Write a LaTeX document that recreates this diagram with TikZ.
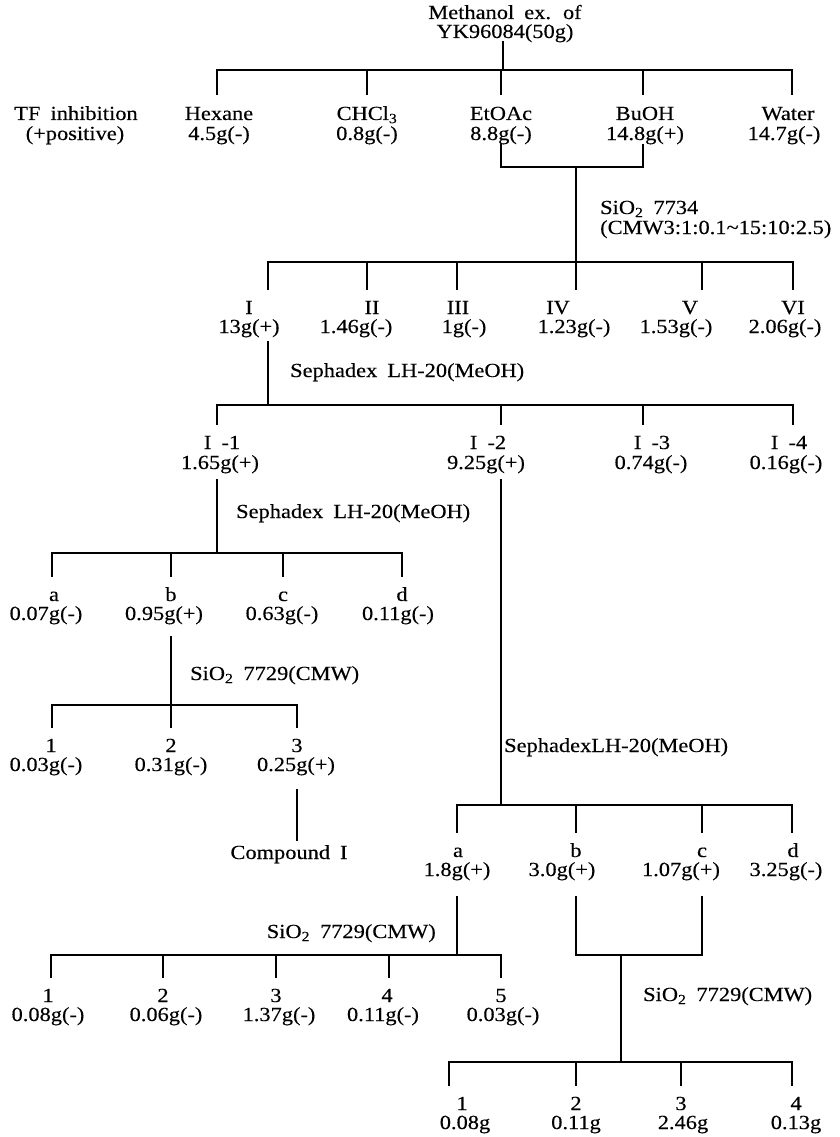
\documentclass[tikz,border=0pt]{standalone}
\usepackage{fontspec}
\setmainfont{Liberation Serif}[FakeStretch=1.12, WordSpace=1.8, FakeBold=0.3]
\newcommand\labfont{\fontsize{20}{19}\selectfont}
\begin{document}
\begin{tikzpicture}[x=1pt,y=-1pt,
  lbl/.style={font=\labfont,inner sep=0pt,anchor=base,text height=12pt,text depth=4pt},
  mth/.style={font=\labfont,inner sep=0pt,anchor=base west},
  ln/.style={line width=1.4pt,line cap=rect}]
\useasboundingbox[fill=white] (0,0) rectangle (839,1137);
\newcommand\lab[7]{\node[lbl] (#1) at (#2,#3) {#4};\node[lbl] (#1-m) at (#5,#6) {#7};}
\newcommand\drp[3]{\coordinate (#1-t) at (#2,#3);\draw[ln,shorten >=13pt] (#1-t) -- (#1-t |- #1.north);}
% title
\node[lbl] (tA) at (505,19) {Methanol ex. of};
\node[lbl] (tB) at (505,38) {YK96084(50g)};
% row 1
\lab{tf}{76}{120}{TF inhibition}{75}{140}{(+positive)}
\lab{hex}{219}{120}{Hexane}{219}{140}{4.5g(-)}
\lab{chl}{367}{120}{CHCl\textsubscript{3}}{367}{140}{0.8g(-)}
\lab{eto}{501}{120}{EtOAc}{501}{140}{8.8g(-)}
\lab{buo}{645}{120}{BuOH}{645}{140}{14.8g(+)}
\lab{wat}{788}{120}{Water}{784}{140}{14.7g(-)}
% row 2
\lab{f1}{249}{314}{I}{249}{333}{13g(+)}
\lab{f2}{372}{314}{II}{356}{333}{1.46g(-)}
\lab{f3}{458}{314}{III}{464}{333}{1g(-)}
\lab{f4}{558}{314}{IV}{574}{333}{1.23g(-)}
\lab{f5}{690}{314}{V}{676}{333}{1.53g(-)}
\lab{f6}{793}{314}{VI}{785}{333}{2.06g(-)}
% row 3
\lab{g1}{222}{449}{I -1}{220}{469}{1.65g(+)}
\lab{g2}{488}{449}{I -2}{486}{469}{9.25g(+)}
\lab{g3}{652}{449}{I -3}{651}{469}{0.74g(-)}
\lab{g4}{789}{449}{I -4}{786}{469}{0.16g(-)}
% row 4
\lab{h1}{54}{601}{a}{46}{620}{0.07g(-)}
\lab{h2}{171}{601}{b}{164}{620}{0.95g(+)}
\lab{h3}{283}{601}{c}{282}{620}{0.63g(-)}
\lab{h4}{402}{601}{d}{398}{620}{0.11g(-)}
% row 5
\lab{k1}{51}{752}{1}{46}{771}{0.03g(-)}
\lab{k2}{171}{752}{2}{171}{771}{0.31g(-)}
\lab{k3}{297}{752}{3}{296}{771}{0.25g(+)}
\node[lbl] (cmp) at (289,859) {Compound\enspace I};
% row 6
\lab{m1}{458}{857}{a}{457}{876}{1.8g(+)}
\lab{m2}{576}{857}{b}{562}{876}{3.0g(+)}
\lab{m3}{702}{857}{c}{681}{876}{1.07g(+)}
\lab{m4}{793}{857}{d}{786}{876}{3.25g(-)}
% row 7
\lab{n1}{48}{1002}{1}{48}{1021}{0.08g(-)}
\lab{n2}{163}{1002}{2}{166}{1021}{0.06g(-)}
\lab{n3}{276}{1002}{3}{279}{1021}{1.37g(-)}
\lab{n4}{387}{1002}{4}{383}{1021}{0.11g(-)}
\lab{n5}{501}{1002}{5}{503}{1021}{0.03g(-)}
% row 8
\lab{p1}{462}{1110}{1}{465}{1129}{0.08g}
\lab{p2}{576}{1110}{2}{576}{1129}{0.11g}
\lab{p3}{681}{1110}{3}{683}{1129}{2.46g}
\lab{p4}{796}{1110}{4}{796}{1129}{0.13g}
% method labels
\node[mth] (s1a) at (600,214) {SiO\textsubscript{2} 7734};
\node[mth] (s1b) at (600,234) {(CMW3:1:0.1\textasciitilde 15:10:2.5)};
\node[mth] (s2) at (290,377) {Sephadex LH-20(MeOH)};
\node[mth] (s3) at (236,518) {Sephadex LH-20(MeOH)};
\node[mth] (s4) at (190,680) {SiO\textsubscript{2} 7729(CMW)};
\node[mth] (s5) at (504,752) {SephadexLH-20(MeOH)};
\node[font=\labfont,inner sep=0pt,anchor=base east] (s6) at (436,938) {SiO\textsubscript{2} 7729(CMW)};
\node[mth] (s7) at (643,1001) {SiO\textsubscript{2} 7729(CMW)};
% level 1
\coordinate (j1) at (503,70);
\draw[ln] (j1 |- tB.south) -- (j1);
\drp{hex}{217}{70}\drp{chl}{367}{70}\drp{eto}{501}{70}\drp{buo}{643}{70}\drp{wat}{792}{70}
\draw[ln] (hex-t) -- (wat-t);
% EtOAc + BuOH
\coordinate (eb1) at (501,167);\coordinate (eb2) at (643,167);\coordinate (j2) at (576,167);
\draw[ln] (eto-m.south -| eb1) -- (eb1) -- (eb2) -- (buo-m.south -| eb2);
% level 2
\drp{f1}{268}{262}\drp{f2}{367}{262}\drp{f3}{457}{262}\drp{f4}{576}{262}\drp{f5}{702}{262}\drp{f6}{793}{262}
\draw[ln] (j2) -- (f4-t);
\draw[ln] (f1-t) -- (f6-t);
% I -> level 3
\coordinate (j4) at (268,405);
\draw[ln,shorten <=4pt] (f1-m.south -| j4) -- (j4);
\drp{g1}{217}{405}\drp{g2}{501}{405}\drp{g3}{643}{405}\drp{g4}{793}{405}
\draw[ln] (g1-t) -- (g4-t);
% I-1 -> level 4
\coordinate (j5) at (217,553);
\draw[ln,shorten <=6pt] (g1-m.south -| j5) -- (j5);
\drp{h1}{52}{553}\drp{h2}{171}{553}\drp{h3}{283}{553}\drp{h4}{402}{553}
\draw[ln] (h1-t) -- (h4-t);
% b -> level 5
\coordinate (j7) at (171,705);
\draw[ln,shorten <=12pt] (h2-m.south -| j7) -- (j7);
\drp{k1}{52}{705}\drp{k2}{171}{705}\drp{k3}{297}{705}
\draw[ln] (k1-t) -- (k3-t);
\draw[ln,shorten <=14pt,shorten >=7pt] (k3-m.south -| k3-t) -- (k3-t |- cmp.north);
% I-2 -> level 6
\coordinate (j6) at (501,805);
\draw[ln,shorten <=6pt] (g2-m.south -| j6) -- (j6);
\drp{m1}{457}{805}\drp{m2}{576}{805}\drp{m3}{702}{805}\drp{m4}{792}{805}
\draw[ln] (m1-t) -- (m4-t);
% a -> level 7
\coordinate (j8) at (457,955);
\draw[ln,shorten <=16pt] (m1-m.south -| j8) -- (j8);
\drp{n1}{51}{955}\drp{n2}{163}{955}\drp{n3}{276}{955}\drp{n4}{389}{955}\drp{n5}{501}{955}
\draw[ln] (n1-t) -- (n5-t);
% b + c -> level 8
\coordinate (bc1) at (576,955);\coordinate (bc2) at (702,955);
\coordinate (j9) at (621,955);
\draw[ln,shorten <=16pt,shorten >=16pt] (m2-m.south -| bc1) -- (bc1) -- (bc2) -- (m3-m.south -| bc2);
\drp{p1}{449}{1062}\drp{p2}{576}{1062}\drp{p3}{681}{1062}\drp{p4}{792}{1062}
\coordinate (j10) at (621,1062);
\draw[ln] (j9) -- (j10);
\draw[ln] (p1-t) -- (p4-t);
\end{tikzpicture}
\end{document}
